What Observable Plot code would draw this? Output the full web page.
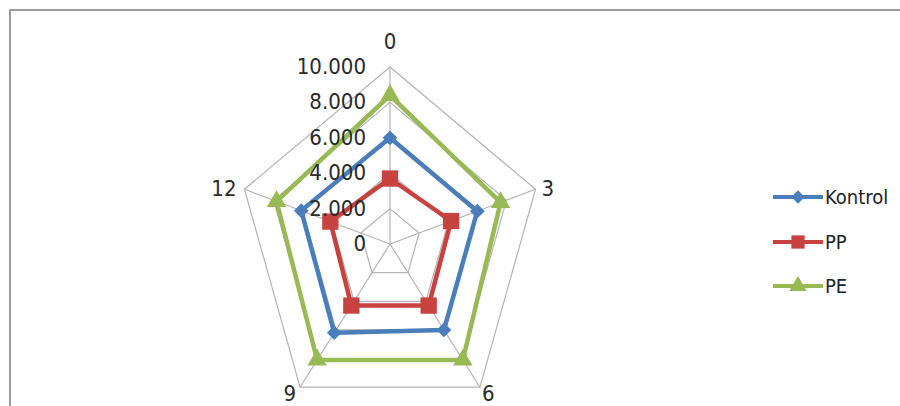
<!DOCTYPE html>
<html>
<head>
<meta charset="utf-8">
<script src="https://cdn.jsdelivr.net/npm/d3@7"></script>
<script src="https://cdn.jsdelivr.net/npm/@observablehq/plot@0.6"></script>
<style>
  html, body { margin: 0; padding: 0; background: #fff; overflow: hidden; width: 900px; height: 406px; }
  #wrap { position: relative; width: 900px; height: 406px; }
  #frame { position: absolute; left: 9px; top: 9px; width: 900px; height: 420px; border: 2px solid #9a9a9a; box-sizing: border-box; }
  #chart { position: absolute; left: 0; top: 0; }
  #legend { position: absolute; left: 773px; top: 175px; font-family: "Liberation Sans Narrow", "DejaVu Sans Condensed", sans-serif; font-size: 20px; color: #222; }
  .item { display: flex; align-items: center; height: 44.5px; }
  .item svg { display: block; margin-right: 2px; }
</style>
</head>
<body>
<div id="wrap">
  <div id="frame"></div>
  <div id="chart"></div>
  <div id="legend"></div>
</div>
<script>
// ---- data ----
const categories = ["0", "3", "6", "9", "12"];
const kontrol = [6000, 6000, 6000, 6200, 6100];
const pp = [3700, 4200, 4300, 4300, 4100];
const pe = [8400, 7600, 8100, 8100, 7800];
const seriesNames = ["Kontrol", "PP", "PE"];
const tickValues = [0, 2000, 4000, 6000, 8000, 10000];
const tickLabels = ["0", "2.000", "4.000", "6.000", "8.000", "10.000"];
const maxValue = 10000;

// ---- styles ----
const colors = {Kontrol: "#4a7ebb", PP: "#c8433f", PE: "#98b954"};
const symbols = {Kontrol: "diamond2", PP: "square", PE: "triangle"};
const sizes = {Kontrol: 6.6, PP: 9.2, PE: 7.2};

const n = categories.length;
const ang = i => (i * 2 * Math.PI) / n;
const px = (v, i) => v * Math.sin(ang(i));
const py = (v, i) => v * Math.cos(ang(i));

const seriesValues = {Kontrol: kontrol, PP: pp, PE: pe};
const points = [];
for (const s of seriesNames) {
  seriesValues[s].forEach((v, i) => points.push({series: s, cat: categories[i], i, x: px(v, i), y: py(v, i)}));
}

const rings = [];
tickValues.filter(t => t > 0).forEach(t => {
  categories.forEach((c, i) => rings.push({level: t, i, x: px(t, i), y: py(t, i)}));
});
const spokes = categories.map((c, i) => ({x1: 0, y1: 0, x2: px(maxValue, i), y2: py(maxValue, i)}));
const ticks = tickValues.map((t, k) => ({x: 0, y: t, label: tickLabels[k]}));
const catLabels = categories.map((c, i) => ({label: c, i, x: px(maxValue, i), y: py(maxValue, i)}));

// centre at (389.5, 243.5); radius 177 vertically, 153 horizontally
const cx = 389.5, cy = 243.5, ry = 177, rx = 153;

const font = {fontFamily: "'Liberation Sans Narrow', 'DejaVu Sans Condensed', sans-serif", fontSize: 22, fill: "#2a2a2a"};

const plot = Plot.plot({
  width: 900,
  height: 406,
  margin: 0,
  x: {type: "linear", domain: [-maxValue, maxValue], range: [cx - rx, cx + rx], axis: null},
  y: {type: "linear", domain: [-maxValue, maxValue], range: [cy + ry, cy - ry], axis: null},
  style: {background: "transparent", overflow: "visible"},
  marks: [
    Plot.line(rings, {x: "x", y: "y", z: "level", curve: "linear-closed", stroke: "#b4b4b4", strokeWidth: 1.2}),
    Plot.link(spokes, {x1: "x1", y1: "y1", x2: "x2", y2: "y2", stroke: "#b4b4b4", strokeWidth: 1.2}),
    Plot.line(points, {x: "x", y: "y", z: "series", curve: "linear-closed", stroke: d => colors[d.series], strokeWidth: 4.5}),
    ...seriesNames.map(s => Plot.dot(points.filter(d => d.series === s), {x: "x", y: "y", symbol: symbols[s], r: sizes[s], fill: colors[s], stroke: "none"})),
    Plot.text(ticks, {x: "x", y: "y", text: "label", textAnchor: "end", dx: -24, ...font}),
    Plot.text(catLabels.filter(d => d.i === 0), {x: "x", y: "y", text: "label", dy: -25, ...font}),
    Plot.text(catLabels.filter(d => d.i === 1), {x: "x", y: "y", text: "label", textAnchor: "start", dx: 6, ...font}),
    Plot.text(catLabels.filter(d => d.i === 2), {x: "x", y: "y", text: "label", textAnchor: "start", dx: 2, dy: 7, ...font}),
    Plot.text(catLabels.filter(d => d.i === 3), {x: "x", y: "y", text: "label", textAnchor: "end", dx: -4, dy: 7, ...font}),
    Plot.text(catLabels.filter(d => d.i === 4), {x: "x", y: "y", text: "label", textAnchor: "end", dx: -8, ...font})
  ]
});
document.getElementById("chart").appendChild(plot);

// legend
const legend = document.getElementById("legend");
const symPath = {
  Kontrol: d3.symbol(d3.symbolDiamond2, Math.PI * 6 * 6)(),
  PP: d3.symbol(d3.symbolSquare, Math.PI * 7.5 * 7.5)(),
  PE: d3.symbol(d3.symbolTriangle, Math.PI * 6.5 * 6.5)()
};
for (const s of seriesNames) {
  const item = document.createElement("div");
  item.className = "item";
  item.innerHTML = `<svg width="50" height="20"><line x1="0" x2="50" y1="10" y2="10" stroke="${colors[s]}" stroke-width="4"/><path transform="translate(25,10)" d="${symPath[s]}" fill="${colors[s]}"/></svg><span>${s}</span>`;
  legend.appendChild(item);
}
</script>
</body>
</html>
